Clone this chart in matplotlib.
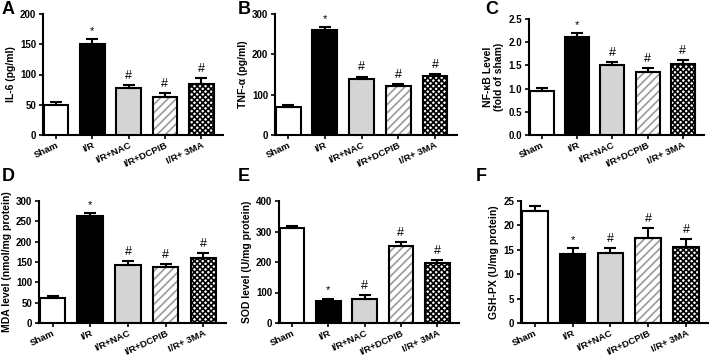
import matplotlib
matplotlib.use("Agg")
import matplotlib.pyplot as plt
import matplotlib.transforms as mtransforms
import numpy as np

plt.rcParams['font.family'] = ['Liberation Sans', 'DejaVu Sans']
plt.rcParams['font.weight'] = 'bold'
plt.rcParams['hatch.linewidth'] = 1.2

groups = ["Sham", "I/R", "I/R+NAC", "I/R+DCPIB", "I/R+ 3MA"]

il6 = [50, 150, 77, 62, 84]
il6_err = [5, 8, 6, 7, 10]
tnf = [70, 260, 139, 121, 146]
tnf_err = [5, 7, 6, 6, 6]
nfkb = [0.94, 2.11, 1.50, 1.36, 1.54]
nfkb_err = [0.08, 0.08, 0.08, 0.08, 0.07]
mda = [61, 262, 143, 137, 161]
mda_err = [6, 8, 9, 7, 10]
sod = [311, 72, 78, 254, 197]
sod_err = [7, 8, 14, 13, 10]
gsh = [22.9, 14.2, 14.4, 17.4, 15.5]
gsh_err = [1.1, 1.2, 1.0, 2.0, 1.8]

marks = ["", "*", "#", "#", "#"]

panels = [
    ("A", il6, il6_err, "IL-6 (pg/ml)", [0, 50, 100, 150, 200], (43, 223, 14, 135), "{:.0f}"),
    ("B", tnf, tnf_err, "TNF-α (pg/ml)", [0, 100, 200, 300], (275, 457, 14, 135), "{:.0f}"),
    ("C", nfkb, nfkb_err, "NF-κB Level\n(fold of sham)", [0, 0.5, 1.0, 1.5, 2.0, 2.5], (529, 704, 19, 135), "{:.1f}"),
    ("D", mda, mda_err, "MDA level (nmol/mg protein)", [0, 50, 100, 150, 200, 250, 300], (39, 226, 201, 323), "{:.0f}"),
    ("E", sod, sod_err, "SOD level (U/mg protein)", [0, 100, 200, 300, 400], (279, 459, 201, 323), "{:.0f}"),
    ("F", gsh, gsh_err, "GSH-PX (U/mg protein)", [0, 5, 10, 15, 20, 25], (521, 709, 201, 323), "{:.0f}"),
]

letter_pos = {"A": (2, 1), "B": (238, 1), "C": (485, 1), "D": (2, 168), "E": (238, 168), "F": (476, 168)}

W, H = 709, 357
fig = plt.figure(figsize=(W / 100, H / 100), dpi=100)

faces = ["white", "black", "#d4d4d4", "white", "white"]
hatches = [None, None, None, "////", "xxxxxx"]
hatch_colors = [None, None, None, "#9a9a9a", "black"]

for letter, vals, errs, ylabel, yticks, (x0, x1, y0, y1), fmt in panels:
    ax = fig.add_axes([x0 / W, 1 - y1 / H, (x1 - x0) / W, (y1 - y0) / H])
    x = np.arange(len(groups))
    for i in range(len(groups)):
        if hatches[i]:
            ax.bar(x[i], vals[i], width=0.68, color="white", edgecolor=hatch_colors[i],
                   hatch=hatches[i], linewidth=0, zorder=2)
            ax.bar(x[i], vals[i], width=0.68, color="none", edgecolor="black",
                   linewidth=1.5, zorder=3)
        else:
            ax.bar(x[i], vals[i], width=0.68, color=faces[i], edgecolor="black",
                   linewidth=1.5, zorder=3)
        ax.errorbar(x[i], vals[i], yerr=[[0], [errs[i]]], fmt="none", ecolor="black",
                    elinewidth=1.5, capsize=4, capthick=1.5, zorder=4)
        if marks[i]:
            off = yticks[-1] * 0.025
            ax.text(x[i], vals[i] + errs[i] + off, marks[i], ha="center", va="bottom",
                    fontsize=9 if marks[i] == "#" else 8, fontweight="normal")
    ax.set_xlim(-0.36, 4.6)
    ax.set_ylim(0, yticks[-1])
    ax.set_yticks(yticks)
    ax.set_yticklabels([fmt.format(t) for t in yticks], fontsize=7, fontweight="bold")
    ax.set_xticks(x)
    ax.set_xticklabels(groups, rotation=25, ha="right", va="top", rotation_mode="anchor",
                       fontsize=6.8, fontweight="bold")
    shift = mtransforms.ScaledTranslation(5 / 100, 1 / 100, fig.dpi_scale_trans)
    for lab in ax.get_xticklabels():
        lab.set_transform(lab.get_transform() + shift)
    ax.spines["top"].set_visible(False)
    ax.spines["right"].set_visible(False)
    ax.spines["left"].set_linewidth(1.5)
    ax.spines["bottom"].set_linewidth(1.5)
    ax.tick_params(axis="both", direction="out", width=1.2, length=3, pad=2)
    ax.tick_params(axis="x", pad=1)
    ax.set_ylabel(ylabel, fontsize=7.5, fontweight="bold", labelpad=3)
    lx, ly = letter_pos[letter]
    fig.text(lx / W, 1 - ly / H, letter, fontsize=13, fontweight="bold", ha="left", va="top")

fig.savefig("out.png", dpi=100)
